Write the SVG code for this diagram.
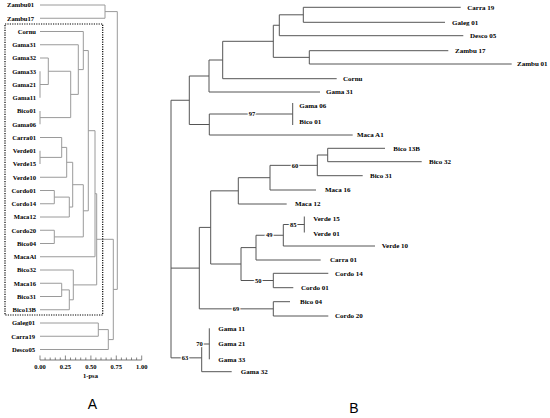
<svg xmlns="http://www.w3.org/2000/svg" width="550" height="418" viewBox="0 0 550 418">
<style>
.la{font:bold 6.6px "Liberation Serif",serif;fill:#000;text-anchor:end}
.lz{font:bold 6.6px "Liberation Serif",serif;fill:#000;text-anchor:start}
.lb{font:bold 7px "Liberation Serif",serif;fill:#000}
.bs{font:bold 6.5px "Liberation Serif",serif;fill:#000;text-anchor:middle;stroke:#fff;stroke-width:2.5;paint-order:stroke}
.ax{font:bold 6.5px "Liberation Serif",serif;fill:#000;text-anchor:middle}
.ea{fill:none;stroke:#9a9a9a;stroke-width:1}
.eb{fill:none;stroke:#555;stroke-width:1}
.pl{font:14px "Liberation Sans",Arial,sans-serif;fill:#000;text-anchor:middle}
</style>
<rect width="550" height="418" fill="#fff"/>
<g id="connectors">
<g id="connectors-A" class="ea">
<path d="M40 5 H105 V18.25 H40"/>
<path d="M40 71.25 V97.75"/>
<path d="M40 58 H48.3 V84.5 H40"/>
<path d="M40 111 V124.25"/>
<path d="M48.3 71.25 H70.7 V117.6 H40"/>
<path d="M40 44.75 H78.3 V94.4 H70.7"/>
<path d="M40 31.5 H83.3 V69.6 H78.3"/>
<path d="M40 150.75 V164"/>
<path d="M40 137.5 H61.7 V157.4 H40"/>
<path d="M61.7 147.4 H66.7 V177.25 H40"/>
<path d="M40 190.5 H54.3 V203.75 H40"/>
<path d="M54.3 197.1 H69.3 V217 H40"/>
<path d="M66.7 162.3 H72.7 V207.05 H69.3"/>
<path d="M40 230.25 H54.3 V243.5 H40"/>
<path d="M72.7 184.7 H83.3 V236.9 H54.3"/>
<path d="M83.3 50.55 H88.3 V210.8 H83.3"/>
<path d="M88.3 130.7 H95 V256.75 H40"/>
<path d="M40 283.25 H61.7 V296.5 H40"/>
<path d="M61.7 289.9 H69.3 V309.75 H40"/>
<path d="M40 270 H73.3 V299.8 H69.3"/>
<path d="M95 193.7 H96.7 V284.9 H73.3"/>
<path d="M40 323 H98.3 V336.25 H40"/>
<path d="M98.3 329.6 H108.3 V349.5 H40"/>
<path d="M96.7 239.3 H113.3 V339.6 H108.3"/>
<path d="M105 11.6 H117.3 V289.4 H113.3"/>
</g>
<g id="connectors-B" class="eb">
<path d="M460.7 7.3 H303.3 V22.3 H445"/>
<path d="M303.3 14.8 H279.3 V35.7 H463.3"/>
<path d="M448.3 50.7 H309.3 V64 H511.7"/>
<path d="M279.3 25.25 H273.3 V57.35 H309.3"/>
<path d="M273.3 41.3 H222.7 V78.7 H336.7"/>
<path d="M222.7 60 H209 V92 H320"/>
<path d="M292.7 103 V125"/>
<path d="M292.7 114 H209.3 V135 H352.7"/>
<path d="M209 76 H189.3 V124.5 H209.3"/>
<path d="M385 148.3 H327.7 V161.7 H421.7"/>
<path d="M327.7 155 H317.3 V175.7 H362.7"/>
<path d="M317.3 165.35 H270 V190 H316"/>
<path d="M270 177.7 H238.3 V204 H286.7"/>
<path d="M304.3 216.5 V232.5"/>
<path d="M304.3 224.5 H283.3 V246 H375"/>
<path d="M283.3 235.25 H256 V260 H320.7"/>
<path d="M328.3 273.3 H273.3 V287.7 H293.3"/>
<path d="M256 247.6 H241 V280.5 H273.3"/>
<path d="M238.3 190.85 H210.7 V264 H241"/>
<path d="M290 301.7 H273.3 V316 H328.3"/>
<path d="M210.7 227.4 H199.3 V308.85 H273.3"/>
<path d="M209.3 328.3 V359.3"/>
<path d="M209.3 344 H201.7 V371.7 H231.7"/>
<path d="M189.3 100.25 H171 V357.85 H201.7"/>
<path d="M171 268.1 H199.3"/>
</g>
</g>
<rect id="cluster-box" x="5" y="24" width="97.7" height="291" fill="none" stroke="#000" stroke-width="1.2" stroke-dasharray="1.2 1.2"/>
<g id="axis-A">
<path d="M40 360 H141.7" stroke="#555" stroke-width="0.8" fill="none"/>
<path stroke="#555" stroke-width="0.7" fill="none" d="M40 355.5V360 M45.1 357.5V360 M50.2 357.5V360 M55.3 357.5V360 M60.3 357.5V360 M65.4 355.5V360 M70.5 357.5V360 M75.6 357.5V360 M80.7 357.5V360 M85.8 357.5V360 M90.9 355.5V360 M95.9 357.5V360 M101 357.5V360 M106.1 357.5V360 M111.2 357.5V360 M116.3 355.5V360 M121.4 357.5V360 M126.4 357.5V360 M131.5 357.5V360 M136.6 357.5V360 M141.7 355.5V360"/>
<text class="ax" x="40" y="369">0.00</text>
<text class="ax" x="65.4" y="369">0.25</text>
<text class="ax" x="90.9" y="369">0.50</text>
<text class="ax" x="116.3" y="369">0.75</text>
<text class="ax" x="141.7" y="369">1.00</text>
<text class="ax" x="90.5" y="378">1-psa</text>
</g>
<g id="leaves-A">
<g id="a-zambu01"><text class="lz" x="7" y="7.3">Zambu01</text></g>
<g id="a-zambu17"><text class="lz" x="7" y="20.5">Zambu17</text></g>
<g id="a-cornu"><text class="la" x="36" y="33.8">Cornu</text></g>
<g id="a-gama31"><text class="la" x="36" y="47">Gama31</text></g>
<g id="a-gama32"><text class="la" x="36" y="60.3">Gama32</text></g>
<g id="a-gama33"><text class="la" x="36" y="73.5">Gama33</text></g>
<g id="a-gama21"><text class="la" x="36" y="86.8">Gama21</text></g>
<g id="a-gama11"><text class="la" x="36" y="100">Gama11</text></g>
<g id="a-bico01"><text class="la" x="36" y="113.3">Bico01</text></g>
<g id="a-gama06"><text class="la" x="36" y="126.5">Gama06</text></g>
<g id="a-carra01"><text class="la" x="36" y="139.8">Carra01</text></g>
<g id="a-verde01"><text class="la" x="36" y="153">Verde01</text></g>
<g id="a-verde15"><text class="la" x="36" y="166.3">Verde15</text></g>
<g id="a-verde10"><text class="la" x="36" y="179.5">Verde10</text></g>
<g id="a-cordo01"><text class="la" x="36" y="192.8">Cordo01</text></g>
<g id="a-cordo14"><text class="la" x="36" y="206">Cordo14</text></g>
<g id="a-maca12"><text class="la" x="36" y="219.3">Maca12</text></g>
<g id="a-cordo20"><text class="la" x="36" y="232.5">Cordo20</text></g>
<g id="a-bico04"><text class="la" x="36" y="245.8">Bico04</text></g>
<g id="a-macaal"><text class="la" x="36" y="259">MacaAl</text></g>
<g id="a-bico32"><text class="la" x="36" y="272.3">Bico32</text></g>
<g id="a-maca16"><text class="la" x="36" y="285.5">Maca16</text></g>
<g id="a-bico31"><text class="la" x="36" y="298.8">Bico31</text></g>
<g id="a-bico13b"><text class="la" x="36" y="312">Bico13B</text></g>
<g id="a-galeg01"><text class="la" x="35" y="325.3">Galeg01</text></g>
<g id="a-carra19"><text class="la" x="35" y="338.5">Carra19</text></g>
<g id="a-desco05"><text class="la" x="35" y="351.8">Desco05</text></g>
</g>
<g id="leaves-B">
<g id="b-carra19"><text class="lb" x="467.3" y="9.6">Carra 19</text></g>
<g id="b-galeg01"><text class="lb" x="452" y="24.6">Galeg 01</text></g>
<g id="b-desco05"><text class="lb" x="470" y="38">Desco 05</text></g>
<g id="b-zambu17"><text class="lb" x="455" y="53">Zambu 17</text></g>
<g id="b-zambu01"><text class="lb" x="517" y="66.3">Zambu 01</text></g>
<g id="b-cornu"><text class="lb" x="343" y="81">Cornu</text></g>
<g id="b-gama31"><text class="lb" x="326" y="94.3">Gama 31</text></g>
<g id="b-gama06"><text class="lb" x="299.3" y="108.3">Gama 06</text></g>
<g id="b-bico01"><text class="lb" x="299.3" y="124">Bico 01</text></g>
<g id="b-macaa1"><text class="lb" x="357" y="137.3">Maca A1</text></g>
<g id="b-bico13b"><text class="lb" x="393.3" y="150.6">Bico 13B</text></g>
<g id="b-bico32"><text class="lb" x="429" y="164">Bico 32</text></g>
<g id="b-bico31"><text class="lb" x="370" y="178">Bico 31</text></g>
<g id="b-maca16"><text class="lb" x="325" y="192.3">Maca 16</text></g>
<g id="b-maca12"><text class="lb" x="295" y="206.3">Maca 12</text></g>
<g id="b-verde15"><text class="lb" x="313.3" y="221.3">Verde 15</text></g>
<g id="b-verde01"><text class="lb" x="313.3" y="235.6">Verde 01</text></g>
<g id="b-verde10"><text class="lb" x="381.7" y="248.3">Verde 10</text></g>
<g id="b-carra01"><text class="lb" x="330" y="262.3">Carra 01</text></g>
<g id="b-cordo14"><text class="lb" x="335" y="275.6">Cordo 14</text></g>
<g id="b-cordo01"><text class="lb" x="301" y="290">Cordo 01</text></g>
<g id="b-bico04"><text class="lb" x="300" y="304">Bico 04</text></g>
<g id="b-cordo20"><text class="lb" x="335" y="318.3">Cordo 20</text></g>
<g id="b-gama11"><text class="lb" x="218.3" y="330.6">Gama 11</text></g>
<g id="b-gama21"><text class="lb" x="218.3" y="345.6">Gama 21</text></g>
<g id="b-gama33"><text class="lb" x="218.3" y="361.6">Gama 33</text></g>
<g id="b-gama32"><text class="lb" x="240.7" y="374">Gama 32</text></g>
</g>
<g id="bootstrap">
<text class="bs" x="252" y="116.2">97</text>
<text class="bs" x="295" y="167.5">60</text>
<text class="bs" x="293.3" y="226.7">85</text>
<text class="bs" x="269.3" y="237.4">49</text>
<text class="bs" x="258.3" y="282.7">50</text>
<text class="bs" x="236" y="311">69</text>
<text class="bs" x="199.5" y="346.2">70</text>
<text class="bs" x="185" y="360">63</text>
</g>
<g id="panel-labels">
<text class="pl" x="92.5" y="409">A</text>
<text class="pl" x="354" y="413">B</text>
</g>
</svg>
